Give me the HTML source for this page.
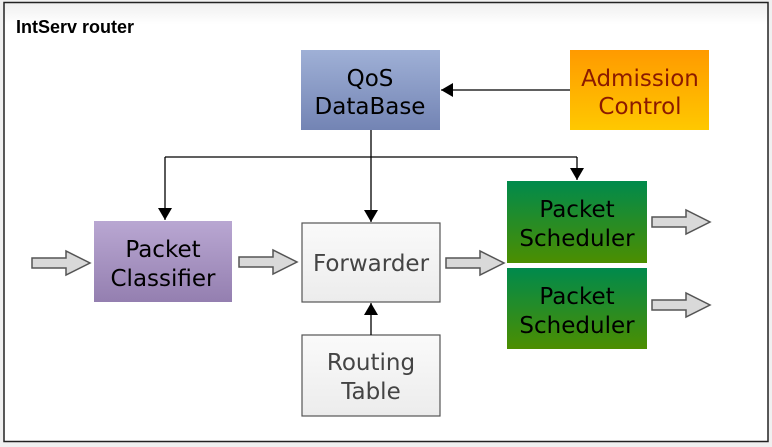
<!DOCTYPE html>
<html><head><meta charset="utf-8"><style>
html,body{margin:0;padding:0;background:#fff;}
svg{display:block;}
text{font-family:"DejaVu Sans",Verdana,sans-serif;font-size:23px;text-anchor:middle;}
</style></head><body>
<svg width="772" height="447" viewBox="0 0 772 447" xmlns="http://www.w3.org/2000/svg">
<defs>
<linearGradient id="qos" x1="0" y1="0" x2="0" y2="1"><stop offset="0" stop-color="#9fb0d6"/><stop offset="1" stop-color="#7384b4"/></linearGradient>
<linearGradient id="adm" x1="0" y1="0" x2="0" y2="1"><stop offset="0" stop-color="#ff9a00"/><stop offset="1" stop-color="#ffc800"/></linearGradient>
<linearGradient id="cls" x1="0" y1="0" x2="0" y2="1"><stop offset="0" stop-color="#b9a7d2"/><stop offset="1" stop-color="#947fb0"/></linearGradient>
<linearGradient id="grn" x1="0" y1="0" x2="0" y2="1"><stop offset="0" stop-color="#008a4c"/><stop offset="1" stop-color="#4c8e00"/></linearGradient>
<linearGradient id="gry" x1="0" y1="0" x2="0" y2="1"><stop offset="0" stop-color="#fafafa"/><stop offset="1" stop-color="#ececec"/></linearGradient>
<linearGradient id="frm" x1="0" y1="0" x2="0" y2="1"><stop offset="0" stop-color="#efefef"/><stop offset="0.05" stop-color="#fff"/><stop offset="1" stop-color="#fff"/></linearGradient>
<marker id="ah" markerWidth="12" markerHeight="14" refX="12" refY="7" orient="auto" markerUnits="userSpaceOnUse"><path d="M0,0 L12,7 L0,14 z" fill="#000"/></marker>
<g id="ba"><path d="M0,-5 L34,-5 L34,-12 L58,0 L34,12 L34,5 L0,5 z" fill="#d9d9d9" stroke="#555" stroke-width="1.5"/></g>
</defs>
<rect x="0" y="0" width="772" height="447" fill="#f0f0f0"/>
<rect x="4" y="2.5" width="764" height="439" fill="url(#frm)" stroke="#222" stroke-width="1.5"/>
<text x="16" y="33" style="font-family:'Liberation Sans',Arial,sans-serif;font-weight:bold;font-size:18px;text-anchor:start">IntServ router</text>

<rect x="301" y="50" width="139" height="80" fill="url(#qos)"/>
<text x="370" y="86">QoS</text><text x="370" y="114">DataBase</text>
<rect x="570" y="50" width="139" height="80" fill="url(#adm)"/>
<text x="640" y="86" fill="#8b1a00">Admission</text><text x="640" y="114" fill="#8b1a00">Control</text>
<rect x="94" y="221" width="138" height="81" fill="url(#cls)"/>
<text x="163" y="257">Packet</text><text x="163" y="286">Classifier</text>
<rect x="302" y="223" width="138" height="79" fill="url(#gry)" stroke="#555" stroke-width="1.2"/>
<text x="371" y="271" fill="#444">Forwarder</text>
<rect x="302" y="335" width="138" height="81" fill="url(#gry)" stroke="#555" stroke-width="1.2"/>
<text x="371" y="370" fill="#444">Routing</text><text x="371" y="399" fill="#444">Table</text>
<rect x="507" y="181" width="140" height="82" fill="url(#grn)"/>
<text x="577" y="217">Packet</text><text x="577" y="246">Scheduler</text>
<rect x="507" y="268" width="140" height="81" fill="url(#grn)"/>
<text x="577" y="304">Packet</text><text x="577" y="333">Scheduler</text>

<g fill="none" stroke="#000" stroke-width="1.3">
<line x1="570" y1="90" x2="441" y2="90" marker-end="url(#ah)"/>
<line x1="371" y1="130" x2="371" y2="222" marker-end="url(#ah)"/>
<line x1="165" y1="157" x2="577" y2="157"/>
<line x1="165" y1="157" x2="165" y2="220" marker-end="url(#ah)"/>
<line x1="577" y1="157" x2="577" y2="180" marker-end="url(#ah)"/>
<line x1="371" y1="335" x2="371" y2="303" marker-end="url(#ah)"/>
</g>
<use href="#ba" x="32" y="263"/>
<use href="#ba" x="239" y="262"/>
<use href="#ba" x="446" y="263"/>
<use href="#ba" x="652" y="222"/>
<use href="#ba" x="652" y="305"/>
</svg>
</body></html>
